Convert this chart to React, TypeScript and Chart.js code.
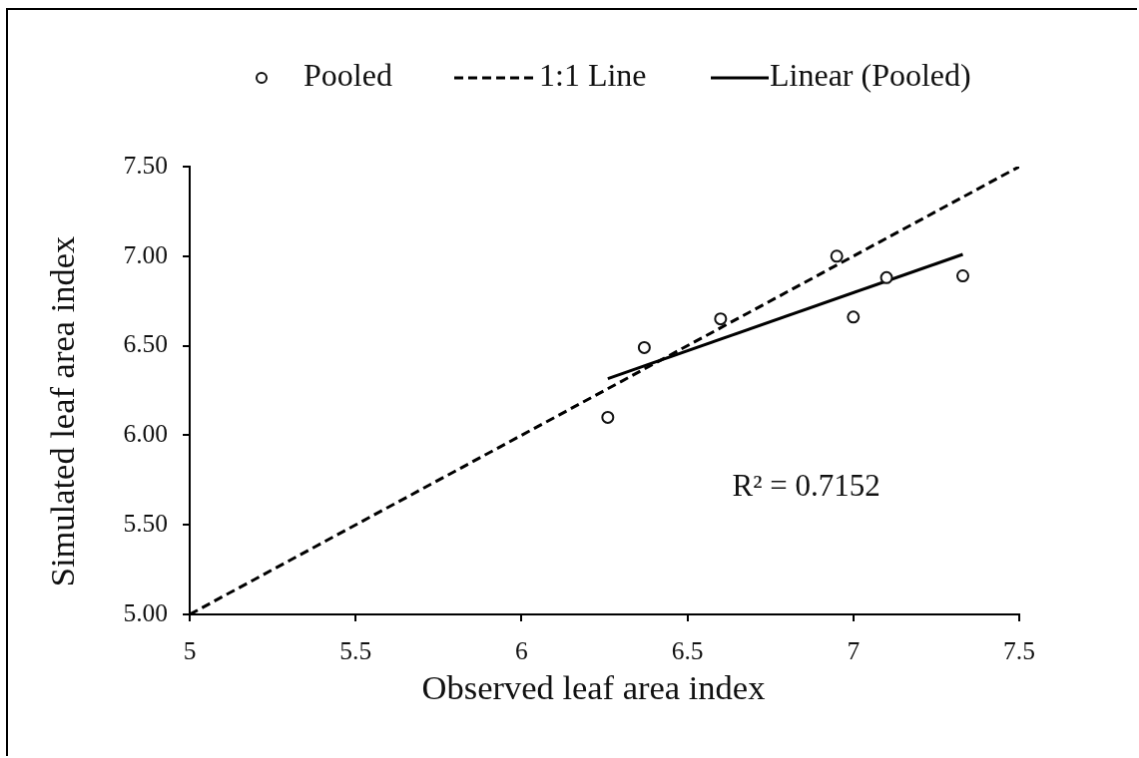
import React, { useEffect, useRef } from 'react';
import { Chart, registerables } from 'chart.js';

Chart.register(...registerables);

// ---- data ----
const observed = [6.26, 6.37, 6.6, 6.95, 7.0, 7.1, 7.33];
const simulated = [6.1, 6.49, 6.65, 7.0, 6.66, 6.88, 6.89];
const oneToOneX = [5, 7.5];
const oneToOneY = [5, 7.5];
const trendX = [6.26, 7.33];
const trendY = [6.316, 7.01];
const xTickValues = [5, 5.5, 6, 6.5, 7, 7.5];
const yTickValues = [5, 5.5, 6, 6.5, 7, 7.5];
const seriesLabels = ['Pooled', '1:1 Line', 'Linear (Pooled)'];
const xTitle = 'Observed leaf area index';
const yTitle = 'Simulated leaf area index';
const r2Text = 'R² = 0.7152';
const r2At = [6.635, 5.71];

// ---- styles ----
const FONT = '"Liberation Serif", "Times New Roman", serif';
const TICK_SIZE = 25.5;
const TITLE_SIZE = 34.5;
const LEGEND_SIZE = 32;
const R2_SIZE = 31;
const INK = '#111';

const decorPlugin = {
  id: 'decor',
  afterDraw(chart: any) {
    const { ctx, chartArea: a, scales } = chart;
    ctx.save();
    ctx.fillStyle = INK;
    ctx.textBaseline = 'middle';

    // axis titles
    ctx.font = `${TITLE_SIZE}px ${FONT}`;
    ctx.textAlign = 'center';
    ctx.fillText(xTitle, (a.left + a.right) / 2 - 11, a.bottom + 76);
    ctx.save();
    ctx.translate(a.left - 125, (a.top + a.bottom) / 2 + 21);
    ctx.rotate(-Math.PI / 2);
    ctx.fillText(yTitle, 0, 0);
    ctx.restore();

    // R² annotation
    ctx.font = `${R2_SIZE}px ${FONT}`;
    ctx.textAlign = 'left';
    ctx.fillText(r2Text, scales.x.getPixelForValue(r2At[0]), scales.y.getPixelForValue(r2At[1]));

    // legend
    const ly = 68;
    const ds = chart.data.datasets;
    ctx.font = `${LEGEND_SIZE}px ${FONT}`;
    // item 0: marker
    ctx.beginPath();
    ctx.arc(254, ly, 5, 0, Math.PI * 2);
    ctx.fillStyle = '#fff';
    ctx.fill();
    ctx.lineWidth = ds[0].borderWidth;
    ctx.strokeStyle = ds[0].borderColor;
    ctx.stroke();
    ctx.fillStyle = INK;
    ctx.fillText(ds[0].label, 296, ly);
    // item 1: dashed line
    ctx.beginPath();
    ctx.setLineDash(ds[1].borderDash);
    ctx.lineWidth = ds[1].borderWidth;
    ctx.strokeStyle = ds[1].borderColor;
    ctx.moveTo(447, ly);
    ctx.lineTo(530, ly);
    ctx.stroke();
    ctx.setLineDash([]);
    ctx.fillText(ds[1].label, 532, ly);
    // item 2: solid line
    ctx.beginPath();
    ctx.lineWidth = ds[2].borderWidth;
    ctx.strokeStyle = ds[2].borderColor;
    ctx.moveTo(704, ly);
    ctx.lineTo(762, ly);
    ctx.stroke();
    ctx.fillText(ds[2].label, 763, ly);

    ctx.restore();
  },
};

export default function App() {
  const ref = useRef<HTMLCanvasElement | null>(null);

  useEffect(() => {
    if (!ref.current) return;
    const chart = new Chart(ref.current, {
      type: 'scatter',
      data: {
        datasets: [
          {
            label: seriesLabels[0],
            data: observed.map((x, i) => ({ x, y: simulated[i] })),
            pointRadius: 5.5,
            pointHoverRadius: 5.5,
            borderWidth: 2,
            borderColor: '#111',
            backgroundColor: '#fff',
            showLine: false,
            order: 0,
          },
          {
            label: seriesLabels[1],
            data: oneToOneX.map((x, i) => ({ x, y: oneToOneY[i] })),
            showLine: true,
            pointRadius: 0,
            borderWidth: 3,
            borderDash: [9, 5],
            borderColor: '#000',
            backgroundColor: '#000',
            order: 2,
          },
          {
            label: seriesLabels[2],
            data: trendX.map((x, i) => ({ x, y: trendY[i] })),
            showLine: true,
            pointRadius: 0,
            borderWidth: 3,
            borderColor: '#000',
            backgroundColor: '#000',
            order: 1,
          },
        ],
      },
      options: {
        responsive: false,
        animation: false,
        layout: { padding: { left: 0, top: 157, right: 118, bottom: 0 } },
        plugins: {
          legend: { display: false },
          tooltip: { enabled: false },
        },
        scales: {
          x: {
            type: 'linear',
            min: 5,
            max: 7.5,
            afterBuildTicks: (s: any) => {
              s.ticks = xTickValues.map((v) => ({ value: v }));
            },
            afterFit: (s: any) => {
              s.height = 142;
            },
            ticks: {
              color: INK,
              font: { family: FONT, size: TICK_SIZE },
              padding: 16,
              maxRotation: 0,
              autoSkip: false,
              callback: (v: any) => String(v),
            },
            grid: { drawOnChartArea: false, drawTicks: true, tickLength: 7, color: '#000', lineWidth: 2 },
            border: { display: true, color: '#000', width: 2 },
          },
          y: {
            type: 'linear',
            min: 5,
            max: 7.5,
            afterBuildTicks: (s: any) => {
              s.ticks = yTickValues.map((v) => ({ value: v }));
            },
            afterFit: (s: any) => {
              s.width = 182;
            },
            ticks: {
              color: INK,
              font: { family: FONT, size: TICK_SIZE },
              padding: 15,
              autoSkip: false,
              callback: (v: any) => Number(v).toFixed(2),
            },
            grid: { drawOnChartArea: false, drawTicks: true, tickLength: 7, color: '#000', lineWidth: 2 },
            border: { display: true, color: '#000', width: 2 },
          },
        },
      },
      plugins: [decorPlugin],
    });
    return () => chart.destroy();
  }, []);

  return (
    <div style={{ position: 'fixed', left: 6, top: 8, background: '#fff' }}>
      <canvas
        ref={ref}
        width={1131}
        height={748}
        style={{ display: 'block', borderLeft: '2px solid #000', borderTop: '2px solid #000' }}
      />
    </div>
  );
}
